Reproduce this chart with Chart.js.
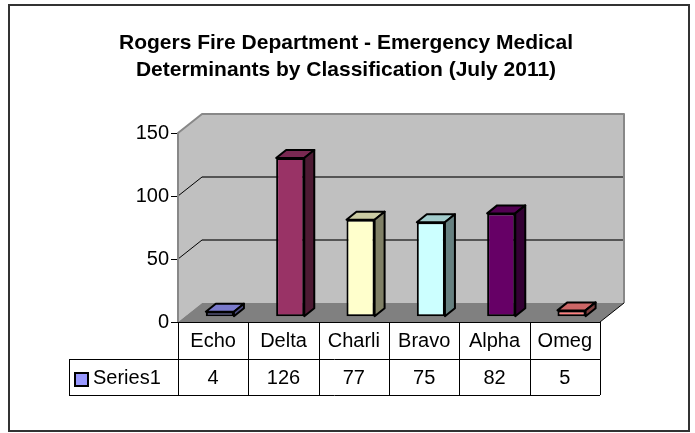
<!DOCTYPE html>
<html>
<head>
<meta charset="utf-8">
<script src="https://cdn.jsdelivr.net/npm/chart.js@4.4.0/dist/chart.umd.min.js"></script>
<style>
    html, body { margin: 0; padding: 0; background: #fff; }
</style>
</head>
<body>
<canvas id="graficoArea" width="695" height="433"></canvas>
<script>
// Dados do gráfico
const categorias = ["Echo", "Delta", "Charli", "Bravo", "Alpha", "Omeg"]
const valores = [4, 126, 77, 75, 82, 5]
const nomeSerie = "Series1"
const tituloLinhas = ["Rogers Fire Department - Emergency Medical", "Determinants by Classification (July 2011)"]
const eixoY = { min: 0, max: 150, passo: 50 }

// Cores das barras (uma por ponto, paleta antiga do Excel)
const coresBarras = ["#9999FF", "#993366", "#FFFFCC", "#CCFFFF", "#660066", "#FF8080"]

// Profundidade da caixa 3D e das barras
const PROF_X = 24, PROF_Y = -19
const BARRA_X = 6.7, BARRA_Y = -5.3
const BARRA_DX = 10, BARRA_DY = -8

const fonte = '"Liberation Sans", Arial, sans-serif'
Chart.defaults.font.family = fonte
Chart.defaults.color = "#000"

// Escurece uma cor hex por um fator
function escurece(hex, fator) {
    let r = parseInt(hex.slice(1, 3), 16)
    let g = parseInt(hex.slice(3, 5), 16)
    let b = parseInt(hex.slice(5, 7), 16)
    return `rgb(${Math.round(r * fator)}, ${Math.round(g * fator)}, ${Math.round(b * fator)})`
}

function poligono(ctx, pontos, preenchimento, contorno, largura) {
    ctx.beginPath()
    ctx.moveTo(pontos[0][0], pontos[0][1])
    for (let i = 1; i < pontos.length; i++) ctx.lineTo(pontos[i][0], pontos[i][1])
    ctx.closePath()
    if (preenchimento) {
        ctx.fillStyle = preenchimento
        ctx.fill()
    }
    if (contorno) {
        ctx.strokeStyle = contorno
        ctx.lineWidth = largura
        ctx.stroke()
    }
}

function linha(ctx, x1, y1, x2, y2, cor, largura) {
    ctx.beginPath()
    ctx.moveTo(x1, y1)
    ctx.lineTo(x2, y2)
    ctx.strokeStyle = cor
    ctx.lineWidth = largura
    ctx.stroke()
}

// Plugin que desenha paredes, faces 3D das barras e a tabela de dados
const efeito3d = {
    id: "efeito3d",
    beforeDraw(chart) {
        const ctx = chart.ctx
        ctx.save()
        ctx.fillStyle = "#fff"
        ctx.fillRect(0, 0, chart.width, chart.height)
        ctx.strokeStyle = "#333"
        ctx.lineWidth = 2
        ctx.strokeRect(9, 5, 680, 426)
        ctx.restore()
    },
    beforeDatasetsDraw(chart) {
        const ctx = chart.ctx
        const { left, right, top, bottom } = chart.chartArea
        const y = chart.scales.y
        ctx.save()
        // parede lateral, parede do fundo e piso
        poligono(ctx, [[left, top], [left + PROF_X, top + PROF_Y], [left + PROF_X, bottom + PROF_Y], [left, bottom]], "#c0c0c0")
        poligono(ctx, [[left + PROF_X, top + PROF_Y], [right + PROF_X, top + PROF_Y], [right + PROF_X, bottom + PROF_Y], [left + PROF_X, bottom + PROF_Y]], "#c0c0c0")
        poligono(ctx, [[left, bottom], [left + PROF_X, bottom + PROF_Y], [right + PROF_X, bottom + PROF_Y], [right, bottom]], "#808080")
        // linhas de grade
        for (let v = eixoY.min + eixoY.passo; v < eixoY.max; v += eixoY.passo) {
            const py = y.getPixelForValue(v)
            linha(ctx, left + PROF_X, py + PROF_Y, right + PROF_X, py + PROF_Y, "#555", 2)
            linha(ctx, left, py, left + PROF_X, py + PROF_Y, "#000", 1)
        }
        // contornos das paredes
        ctx.lineJoin = "round"
        ctx.beginPath()
        ctx.moveTo(left, bottom)
        ctx.lineTo(left, top)
        ctx.lineTo(left + PROF_X, top + PROF_Y)
        ctx.lineTo(right + PROF_X, top + PROF_Y)
        ctx.lineTo(right + PROF_X, bottom + PROF_Y)
        ctx.strokeStyle = "#888"
        ctx.lineWidth = 2
        ctx.stroke()
        linha(ctx, right, bottom, right + PROF_X, bottom + PROF_Y, "#000", 1)
        ctx.restore()

        // desloca as barras para dentro da caixa
        ctx.save()
        ctx.translate(BARRA_X, BARRA_Y)
    },
    afterDatasetsDraw(chart) {
        const ctx = chart.ctx
        const meta = chart.getDatasetMeta(0)
        ctx.lineJoin = "round"
        meta.data.forEach((barra, i) => {
            const { x, y, base, width } = barra.getProps(["x", "y", "base", "width"], true)
            const esq = x - width / 2, dir = x + width / 2
            const cor = coresBarras[i]
            // face de cima
            poligono(ctx, [[esq, y], [dir, y], [dir + BARRA_DX, y + BARRA_DY], [esq + BARRA_DX, y + BARRA_DY]], escurece(cor, 0.8), "#000", 2)
            // face lateral
            poligono(ctx, [[dir, y], [dir + BARRA_DX, y + BARRA_DY], [dir + BARRA_DX, base + BARRA_DY], [dir, base]], escurece(cor, 0.5), "#000", 2)
        })
        ctx.restore()
    },
    afterDraw(chart) {
        // Tabela de dados abaixo do gráfico
        const ctx = chart.ctx
        const { left, right, bottom } = chart.chartArea
        const x = chart.scales.x
        const largura = (right - left) / categorias.length
        const linha1 = bottom, linha2 = bottom + 37, linha3 = bottom + 73
        const esqTabela = 69
        ctx.save()
        linha(ctx, left, linha1 + 0.5, right, linha1 + 0.5, "#000", 1)
        linha(ctx, esqTabela, linha2 + 0.5, right, linha2 + 0.5, "#000", 1)
        linha(ctx, esqTabela, linha3 + 0.5, right, linha3 + 0.5, "#000", 1)
        linha(ctx, esqTabela + 0.5, linha2, esqTabela + 0.5, linha3, "#000", 1)
        for (let i = 0; i <= categorias.length; i++) {
            const px = Math.round(left + i * largura) + 0.5
            linha(ctx, px, linha1, px, linha3, "#000", 1)
        }
        ctx.fillStyle = "#000"
        ctx.font = `20px ${fonte}`
        ctx.textAlign = "center"
        ctx.textBaseline = "middle"
        categorias.forEach((cat, i) => {
            const cx = x.getPixelForValue(i)
            ctx.fillText(cat, cx, (linha1 + linha2) / 2 + 1)
            ctx.fillText(String(valores[i]), cx, (linha2 + linha3) / 2 + 1)
        })
        // legenda da série
        ctx.fillStyle = coresBarras[0]
        ctx.fillRect(75, linha2 + 14, 13, 13)
        ctx.strokeStyle = "#000"
        ctx.lineWidth = 2
        ctx.strokeRect(75, linha2 + 14, 13, 13)
        ctx.fillStyle = "#000"
        ctx.textAlign = "left"
        ctx.fillText(nomeSerie, 93, (linha2 + linha3) / 2 + 1)
        ctx.restore()
    }
}

const config = {
    type: "bar",
    data: {
        labels: categorias,
        datasets: [{
            label: nomeSerie,
            data: valores,
            backgroundColor: coresBarras,
            borderColor: "#000",
            borderWidth: 2,
            borderSkipped: false,
            barPercentage: 0.4,
            categoryPercentage: 1
        }]
    },
    options: {
        responsive: false,
        animation: false,
        layout: { padding: { left: 92, right: 95, top: 0, bottom: 111 } },
        plugins: {
            legend: { display: false },
            tooltip: { enabled: false },
            title: {
                display: true,
                text: tituloLinhas,
                color: "#000",
                font: { size: 21, weight: "bold", lineHeight: 1.25 },
                padding: { top: 30.5, bottom: 50 }
            }
        },
        scales: {
            x: { display: false },
            y: {
                min: eixoY.min,
                max: eixoY.max,
                afterFit: (escala) => { escala.width = 86 },
                ticks: { stepSize: eixoY.passo, padding: 2, color: "#000", font: { size: 20 } },
                grid: { drawOnChartArea: false, drawTicks: true, tickLength: 7, color: "#000" },
                border: { display: false }
            }
        }
    },
    plugins: [efeito3d]
}

new Chart(document.getElementById("graficoArea"), config)
</script>
</body>
</html>
